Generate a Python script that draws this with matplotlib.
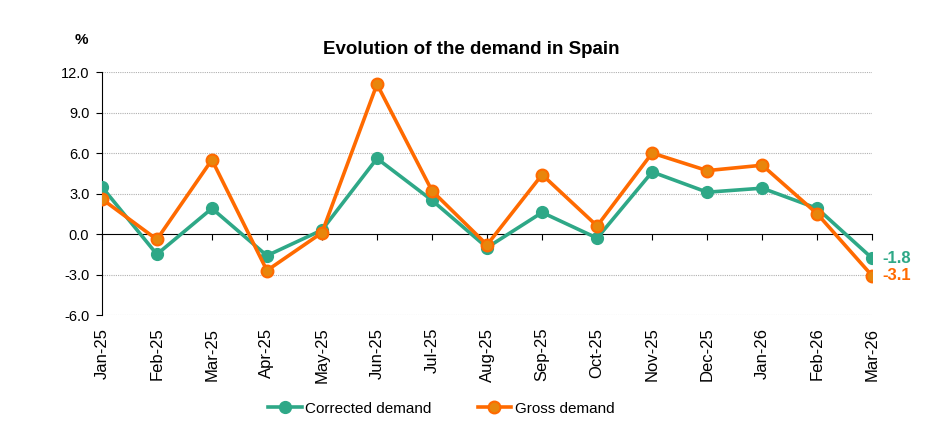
import numpy as np
import matplotlib.pyplot as plt

plt.rcParams['font.family'] = ['Liberation Sans', 'DejaVu Sans']

months = ['Jan-25', 'Feb-25', 'Mar-25', 'Apr-25', 'May-25', 'Jun-25', 'Jul-25', 'Aug-25',
          'Sep-25', 'Oct-25', 'Nov-25', 'Dec-25', 'Jan-26', 'Feb-26', 'Mar-26']
corrected = [3.5, -1.5, 1.9, -1.6, 0.3, 5.6, 2.5, -1.0, 1.6, -0.3, 4.6, 3.1, 3.4, 1.9, -1.8]
gross = [2.6, -0.4, 5.5, -2.7, 0.1, 11.1, 3.2, -0.8, 4.4, 0.6, 6.0, 4.7, 5.1, 1.5, -3.1]
yticks = [-6.0, -3.0, 0.0, 3.0, 6.0, 9.0, 12.0]

GREEN = '#2ea887'
ORANGE = '#ff6a00'
ORANGE_FILL = '#e8860c'

fig = plt.figure(figsize=(9.43, 4.34), dpi=100)
ax = fig.add_axes([0.108, 0.274, 0.817, 0.560])

x = np.arange(len(months))
ax.plot(x, corrected, color=GREEN, lw=2.6, marker='o', ms=8.5, mfc=GREEN, mec=GREEN,
        label='Corrected demand', zorder=3)
ax.plot(x, gross, color=ORANGE, lw=2.6, marker='o', ms=8.5, mfc=ORANGE_FILL, mec=ORANGE,
        mew=1.5, label='Gross demand', zorder=4)

ax.set_xlim(0, len(months) - 1)
ax.set_ylim(-6, 12)
ax.set_yticks(yticks)
ax.set_yticklabels([f'{v:.1f}' for v in yticks], fontsize=10.5)
for v in yticks:
    if v != 0:
        ax.axhline(v, color='#b0b0b0', lw=0.8, ls=(0, (1, 1)), zorder=1)

for s in ['top', 'right']:
    ax.spines[s].set_visible(False)
ax.spines['left'].set_color('black')
ax.spines['bottom'].set_position(('data', 0))
ax.spines['bottom'].set_color('black')
ax.tick_params(axis='y', direction='out', length=4, pad=5)
ax.set_xticks(x)
ax.tick_params(axis='x', direction='out', length=4, labelbottom=False)

sec = ax.secondary_xaxis('bottom')
sec.set_xticks(x)
sec.set_xticklabels(months, rotation=90, fontsize=12)
sec.tick_params(length=0, pad=9)
sec.spines['bottom'].set_visible(False)

ax.text(x[-1] + 0.18, corrected[-1], f'{corrected[-1]:.1f}', color=GREEN, fontsize=12,
        fontweight='bold', va='center', ha='left')
ax.text(x[-1] + 0.18, gross[-1], f'{gross[-1]:.1f}', color=ORANGE, fontsize=12,
        fontweight='bold', va='center', ha='left')

fig.text(0.50, 0.887, 'Evolution of the demand in Spain', fontsize=13.5, fontweight='bold',
         ha='center', va='center')
fig.text(0.086, 0.908, '%', fontsize=11, fontweight='bold', ha='center', va='center')

fig.legend(loc='center', bbox_to_anchor=(0.468, 0.058), ncol=2, frameon=False,
           fontsize=11, handlelength=2.2, handletextpad=0.25, columnspacing=3)

fig.savefig('out.png', dpi=100)
